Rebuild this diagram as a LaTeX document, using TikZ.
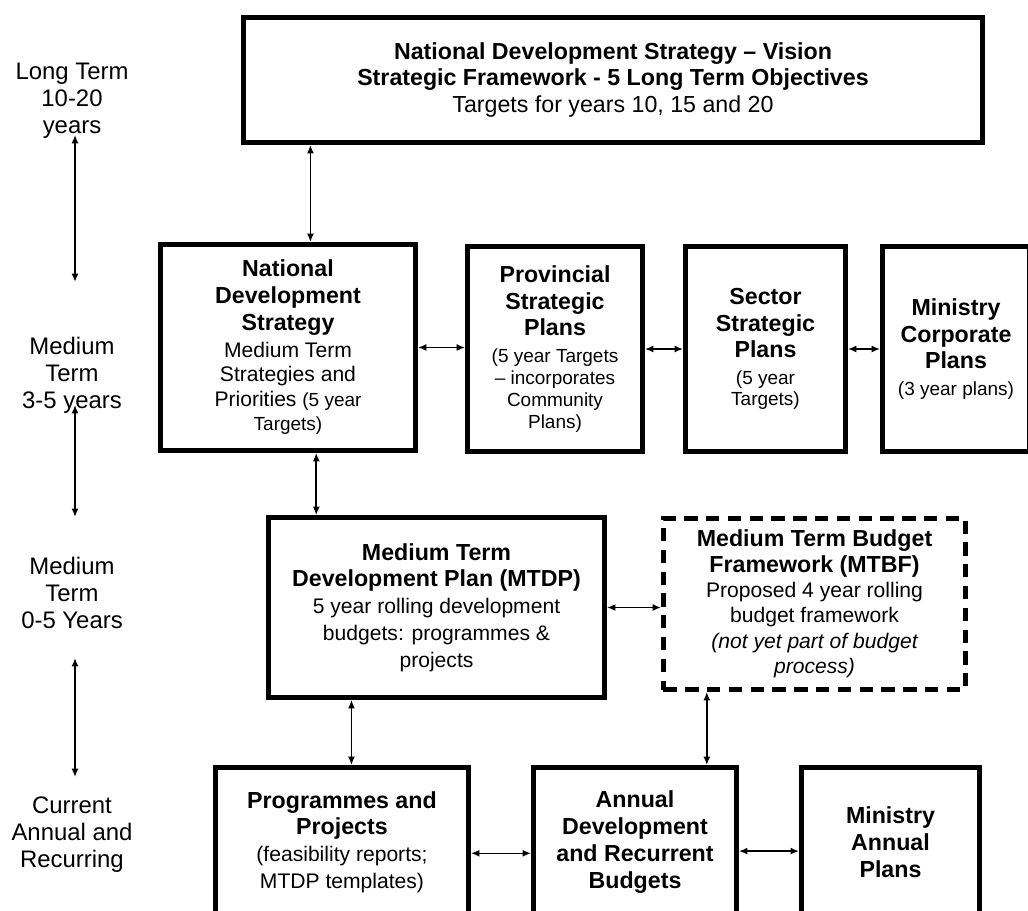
\documentclass[tikz,border=0pt]{standalone}
\usepackage{fontspec}
\setmainfont{Liberation Sans}
\usepackage{tikz}
\usetikzlibrary{arrows.meta}
\newcommand{\hdfont}{\fontsize{16.5}{19}\selectfont\bfseries}
\newcommand{\txfont}{\fontsize{15}{17.5}\selectfont\mdseries}
\newcommand{\smfont}{\fontsize{13.5}{16.5}\selectfont\mdseries}

\begin{document}
\begin{tikzpicture}[x=0.025cm, y=-0.025cm,
  box/.style={draw, line width=3.5pt, inner sep=2pt, align=center, font=\hdfont},
  dbox/.style={box, dash pattern=on 9.5pt off 6pt},
  lab/.style={align=center, font=\fontsize{17}{19.2}\selectfont},
  link/.style={<->, line width=1.1pt},
  >={Latex[length=6pt,width=5pt]}]
\useasboundingbox (0,0) rectangle (1028,911);
\clip (0,0) rectangle (1028,911);
\fill[white] (0,0) rectangle (1028,911);
% time scale on the left
\node[lab] (lt) at (72,101) {Long Term\\10-20\\years};
\node[lab] (mt) at (72,375) {Medium\\Term\\3-5 years};
\node[lab] (mz) at (72,593) {Medium\\Term\\0-5 Years};
\node[lab] (cur) at (72,835) {Current\\Annual and\\Recurring};
\coordinate (a1) at (75,135);
\coordinate (b1) at (75,282);
\coordinate (a2) at (75,405);
\coordinate (b2) at (75,517);
\coordinate (a3) at (75,658);
\coordinate (b3) at (75,777);
\draw[link] (a1) -- (b1);
\draw[link] (a2) -- (b2);
\draw[link] (a3) -- (b3);
% plans
\node[box, minimum width=18.475cm, minimum height=3.125cm] (top) at (613,80) {National Development Strategy – Vision\\Strategic Framework - 5 Long Term Objectives\\\mdseries Targets for years 10, 15 and 20};
\node[box, minimum width=6.375cm, minimum height=5.15cm] (nds) at (288,347.5) {National\\Development\\Strategy\\\txfont Medium Term\\[-1.5pt]\txfont Strategies and\\[-1.5pt]\txfont Priorities {\smfont (5 year}\\[-1.5pt]\smfont Targets)};
\node[box, minimum width=4.375cm, minimum height=5.125cm] (prov) at (555,349) {Provincial\\Strategic\\Plans\\\smfont (5 year Targets\\[-3.4pt]\smfont – incorporates\\[-3.4pt]\smfont Community\\[-3.4pt]\smfont Plans)};
\node[box, minimum width=4cm, minimum height=5.125cm] (sect) at (765.5,349) {Sector\\Strategic\\Plans\\\smfont (5 year\\[-4pt]\smfont Targets)};
\node[box, minimum width=3.675cm, minimum height=5.125cm] (minc) at (956,349) {Ministry\\Corporate\\Plans\\\smfont (3 year plans)};
\node[box, minimum width=8.4cm, minimum height=4.5cm] (mtdp) at (436.5,607.5) {Medium Term\\Development Plan (MTDP)\\\txfont 5 year rolling development\\\txfont budgets: programmes \&\\\txfont projects};
\node[dbox, minimum width=7.55cm, minimum height=4.275cm] (mtbf) at (814.5,604) {Medium Term Budget\\[-1pt]Framework (MTBF)\\[-1pt]\txfont Proposed 4 year rolling\\[-1pt]\txfont budget framework\\[-1pt]\txfont\itshape (not yet part of budget\\[-1pt]\txfont\itshape process)};
\node[box, minimum width=6.325cm, minimum height=3.725cm] (prog) at (342,842) {Programmes and\\Projects\\\txfont (feasibility reports;\\\txfont MTDP templates)};
\node[box, minimum width=5.075cm, minimum height=3.725cm] (ann) at (635,842) {Annual\\Development\\and Recurrent\\Budgets};
\node[box, minimum width=4.45cm, minimum height=3.725cm] (mina) at (890.5,842) {Ministry\\Annual\\Plans};
% links
\draw[link] (nds.78.2) -- (nds.78.2 |- top.south);
\draw[link] (nds.east) -- (nds.east -| prov.west);
\draw[link] (prov.east) -- (prov.east -| sect.west);
\draw[link] (sect.east) -- (sect.east -| minc.west);
\draw[link] (nds.-75.1) -- (nds.-75.1 |- mtdp.north);
\draw[link] (mtdp.east) -- (mtdp.east -| mtbf.west);
\draw[link] (prog.83.3) -- (prog.83.3 |- mtdp.south);
\draw[link] (ann.47.3) -- (ann.47.3 |- mtbf.south);
\draw[link] (prog.-5.75) -- (prog.-5.75 -| ann.west);
\draw[link] (ann.-5.75) -- (ann.-5.75 -| mina.west);
\end{tikzpicture}
\end{document}
